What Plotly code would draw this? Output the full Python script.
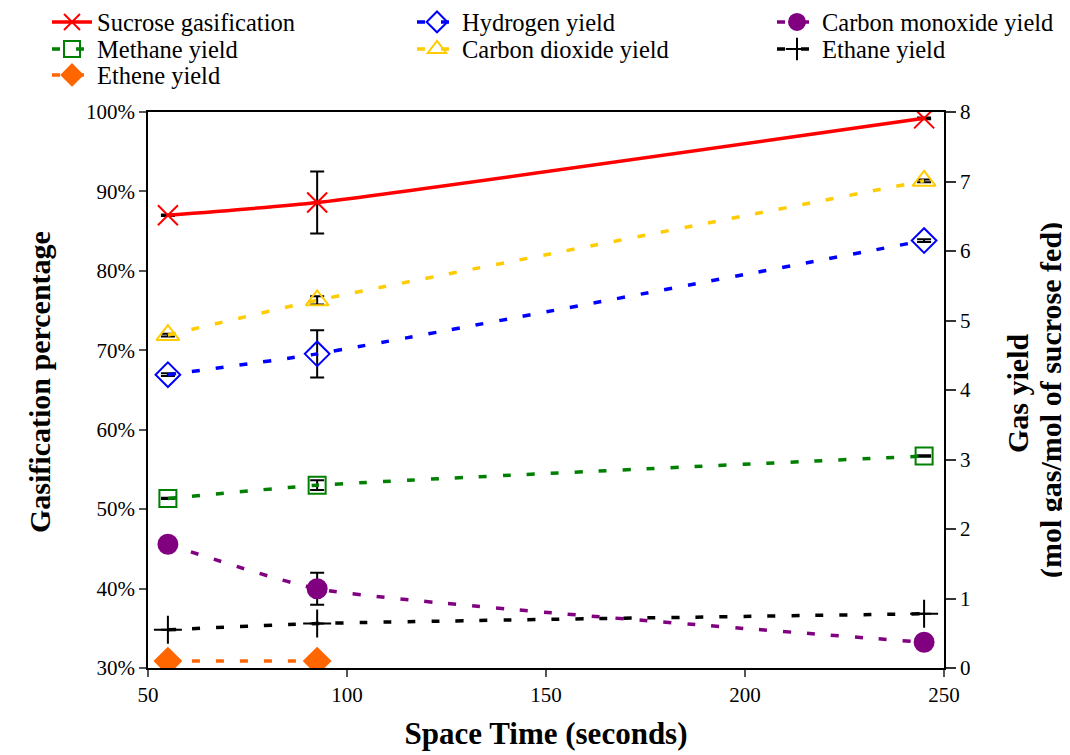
import plotly.graph_objects as go

space_time = [55, 92.5, 245]

sucrose_gasification = [87.0, 88.6, 99.2]
sucrose_err = [0.1, 3.9, 0.1]

hydrogen_yield = [4.22, 4.52, 6.15]
hydrogen_err = [0.02, 0.34, 0.02]
carbon_monoxide_yield = [1.78, 1.14, 0.37]
carbon_monoxide_err = [0.0, 0.23, 0.0]
methane_yield = [2.44, 2.63, 3.05]
methane_err = [0.01, 0.07, 0.01]
carbon_dioxide_yield = [4.79, 5.29, 7.01]
carbon_dioxide_err = [0.02, 0.06, 0.02]
ethane_yield = [0.55, 0.64, 0.78]
ethane_err = [0.0, 0.0, 0.0]
ethene_x = [55, 92.5]
ethene_yield = [0.10, 0.10]

left_ticks = [30, 40, 50, 60, 70, 80, 90, 100]
left_ticktext = ["30%", "40%", "50%", "60%", "70%", "80%", "90%", "100%"]
right_ticks = [0, 1, 2, 3, 4, 5, 6, 7, 8]
x_ticks = [50, 100, 150, 200, 250]

FONT = "Liberation Serif"
W, H = 1070, 755
OFF = 7  # page offset of the plot div
PL, PT, PW, PH = 147, 111, 796, 556  # plot area in page pixels

fig = go.Figure()

def err(vals):
    return dict(type="data", array=vals, visible=True, color="black", thickness=2, width=7)

# legend slot positions (text left x, row centre y) in page pixels
col_x = [97, 462, 822]
row_y = [21, 48, 74]

def legend_id(i):
    return "legend" if i == 0 else f"legend{i + 1}"

fig.add_trace(go.Scatter(
    x=space_time, y=sucrose_gasification, name="Sucrose gasification",
    mode="lines+markers", line=dict(color="#FF0000", width=3.5, shape="spline", smoothing=0.5),
    marker=dict(symbol="x-thin-open", size=20, line=dict(color="#FF0000", width=2)),
    error_y=err(sucrose_err), yaxis="y", legend=legend_id(0)))

series = [
    ("Hydrogen yield", space_time, hydrogen_yield, hydrogen_err, "#0000FF", "diamond-open", 19),
    ("Carbon monoxide yield", space_time, carbon_monoxide_yield, carbon_monoxide_err, "#800080", "circle", 19),
    ("Methane yield", space_time, methane_yield, methane_err, "#008000", "square-open", 17),
    ("Carbon dioxide yield", space_time, carbon_dioxide_yield, carbon_dioxide_err, "#FFCC00", "triangle-up-open", 20),
    ("Ethane yield", space_time, ethane_yield, ethane_err, "#000000", "cross-thin-open", 20),
    ("Ethene yield", ethene_x, ethene_yield, None, "#FF6600", "diamond", 20),
]

for k, (name, xs, ys, e, color, sym, size) in enumerate(series, start=1):
    fig.add_trace(go.Scatter(
        x=xs, y=ys, name=name, mode="lines+markers",
        line=dict(color=color, width=3.5, dash="8px,16px", shape="spline", smoothing=0.5),
        marker=dict(symbol=sym, size=size, color=color, line=dict(color=color, width=2)),
        error_y=err(e) if e is not None else None,
        yaxis="y2", legend=legend_id(k)))

tickfont = dict(family=FONT, size=21, color="black")
titlefont = dict(family=FONT, size=30, color="black")

legends = {}
for i in range(7):
    r, c = divmod(i, 3)
    legends[legend_id(i)] = dict(
        xref="container", yref="container",
        x=(col_x[c] - 51 - OFF) / W, y=1 - (row_y[r] - OFF) / H,
        xanchor="left", yanchor="middle", itemwidth=40,
        font=dict(family=FONT, size=24.5, color="black"), bgcolor="rgba(0,0,0,0)")

def px_to_paper_x(px):
    return (px - PL) / PW

def px_to_paper_y(py):
    return (PT + PH - py) / PH

annotations = [
    dict(text="<b>Gasification percentage</b>", xref="paper", yref="paper",
         x=px_to_paper_x(38), y=px_to_paper_y(381), textangle=-90, showarrow=False,
         xanchor="center", yanchor="middle", font=titlefont),
    dict(text="<b>Gas yield</b>", xref="paper", yref="paper",
         x=px_to_paper_x(1016), y=px_to_paper_y(392), textangle=-90, showarrow=False,
         xanchor="center", yanchor="middle", font=titlefont),
    dict(text="<b>(mol gas/mol of sucrose fed)</b>", xref="paper", yref="paper",
         x=px_to_paper_x(1050), y=px_to_paper_y(399), textangle=-90, showarrow=False,
         xanchor="center", yanchor="middle", font=titlefont),
]

fig.update_layout(
    width=W, height=H,
    margin=dict(l=PL - OFF, r=W - (PL - OFF) - PW, t=PT - OFF, b=H - (PT - OFF) - PH, autoexpand=False),
    paper_bgcolor="white", plot_bgcolor="white",
    font=dict(family=FONT, color="black"),
    xaxis=dict(range=[50, 250], tickvals=x_ticks,
               showgrid=False, zeroline=False, showline=True, linecolor="black", linewidth=1.5,
               mirror=True, ticks="outside", ticklen=7, tickcolor="#555", tickwidth=1.5,
               tickfont=tickfont,
               title=dict(text="<b>Space Time (seconds)</b>", font=dict(family=FONT, size=31, color="black"), standoff=16)),
    yaxis=dict(range=[30, 100], tickmode="array", tickvals=left_ticks, ticktext=left_ticktext,
               showgrid=False, zeroline=False, showline=True, linecolor="black", linewidth=1.5,
               ticks="outside", ticklen=7, tickcolor="#555", tickwidth=1.5, tickfont=tickfont),
    yaxis2=dict(range=[0, 8], tickvals=right_ticks, overlaying="y", side="right",
                showgrid=False, zeroline=False, showline=True, linecolor="black", linewidth=1.5,
                ticks="outside", ticklen=10, tickcolor="#333", tickwidth=1.5, tickfont=tickfont),
    annotations=annotations,
    showlegend=True,
    **legends,
)

fig.write_html("out.html")
